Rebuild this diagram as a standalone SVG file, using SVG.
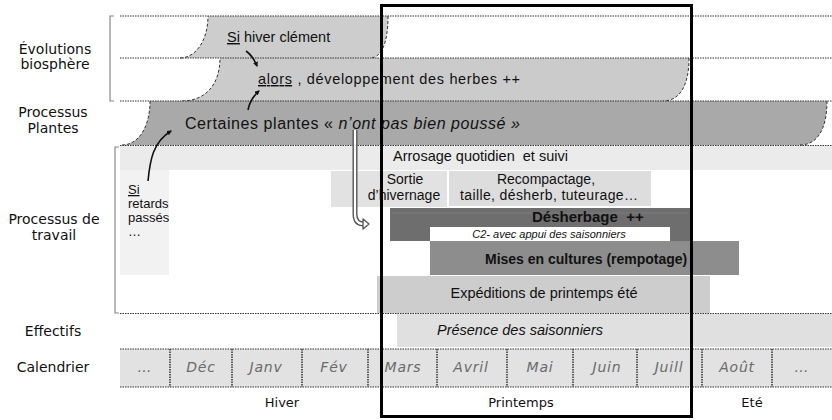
<svg xmlns="http://www.w3.org/2000/svg" width="832" height="420" viewBox="0 0 832 420">
<style>
.lbl{font-family:"DejaVu Sans",sans-serif;font-size:14px;fill:#111;text-anchor:middle}
.t{font-family:"Liberation Sans",Arial,sans-serif;fill:#111}
.dot{stroke:#333;stroke-width:1.2;stroke-dasharray:1.5 1;fill:none}
.vdot{stroke:#333;stroke-width:1.5;stroke-dasharray:1.5 1;fill:none}
.edge{stroke:#333;stroke-width:1;stroke-dasharray:3 2;fill:none}
.mon{font-family:"DejaVu Sans",sans-serif;font-style:italic;font-size:14px;fill:#6a6a6a;text-anchor:middle;letter-spacing:0.8px}
.ssn{font-family:"DejaVu Sans",sans-serif;font-size:13px;fill:#111;text-anchor:middle}
.br{stroke:#888;stroke-width:1.2;fill:none}
.arr{stroke:#111;stroke-width:1.6;fill:none;marker-end:url(#ah)}
</style>
<defs>
<marker id="ah" viewBox="0 0 10 10" refX="8" refY="5" markerWidth="5" markerHeight="5" orient="auto" markerUnits="userSpaceOnUse">
<path d="M0,0 L10,5 L0,10 Z" fill="#111"/>
</marker>
</defs>
<rect width="832" height="420" fill="#fff"/>

<g id="labels">
<text class="lbl" x="55" y="54">Évolutions</text>
<text class="lbl" x="55" y="69">biosphère</text>
<text class="lbl" x="53" y="117">Processus</text>
<text class="lbl" x="53" y="133">Plantes</text>
<text class="lbl" x="54" y="224">Processus de</text>
<text class="lbl" x="54" y="240">travail</text>
<text class="lbl" x="53" y="336">Effectifs</text>
<text class="lbl" x="53" y="372">Calendrier</text>
<path class="br" d="M114,16 L110,16 L110,101 L114,101"/>
<path class="br" d="M119,147 L115,147 L115,313 L119,313"/>
</g>

<g id="si-hiver">
<path d="M208,16 L388,16 C388,42 382,58 370,58 L180,58 C196,58 208,40 208,16 Z" fill="#cdcdcd"/>
<path class="edge" d="M180,58 C196,58 208,40 208,16"/>
<path class="edge" d="M388,16 C388,42 382,58 370,58"/>
<text class="t" x="227" y="42" font-size="14.5"><tspan text-decoration="underline">Si</tspan> hiver clément</text>
</g>

<g id="alors">
<path d="M220,58 L689,58 C689,85 680,101 663,101 L182,101 C205,101 220,85 220,58 Z" fill="#cbcbcb"/>
<path class="edge" d="M182,101 C205,101 220,85 220,58"/>
<path class="edge" d="M689,58 C689,85 680,101 663,101"/>
<text class="t" x="258" y="84" font-size="14.5" textLength="262" lengthAdjust="spacing"><tspan text-decoration="underline">alors</tspan> , développement des herbes ++</text>
</g>

<g id="certaines">
<path d="M150,101 L827,101 C827,128 818,145 800,145 L122,145 C138,145 150,128 150,101 Z" fill="#a9a9a9"/>
<path class="edge" d="M122,145 C138,145 150,128 150,101"/>
<path class="edge" d="M827,101 C827,128 818,145 800,145"/>
<text class="t" x="185" y="129" font-size="16" textLength="335" lengthAdjust="spacing">Certaines plantes « <tspan font-style="italic">n’ont pas bien poussé »</tspan></text>
</g>

<g id="arrosage">
<rect x="120" y="146" width="712" height="24" fill="#ebebeb"/>
<text class="t" x="393" y="161" font-size="14.5" xml:space="preserve">Arrosage quotidien  et suivi</text>
</g>

<g id="si-retards">
<rect x="120" y="170" width="49" height="105" fill="#f2f2f2"/>
<text class="t" x="128" y="194" font-size="13" text-decoration="underline">Si</text>
<text class="t" x="128" y="208" font-size="13">retards</text>
<text class="t" x="128" y="222" font-size="13">passés</text>
<text class="t" x="128" y="236" font-size="13" fill="#555">…</text>
</g>

<g id="sortie">
<rect x="331" y="171" width="116" height="36" fill="#e2e2e2"/>
<text class="t" x="405" y="184" font-size="14" text-anchor="middle">Sortie</text>
<text class="t" x="404" y="200" font-size="14" text-anchor="middle">d’hivernage</text>
</g>

<g id="recompactage">
<rect x="449" y="171" width="202" height="35" fill="#dddddd"/>
<text class="t" x="546" y="184" font-size="14" text-anchor="middle">Recompactage,</text>
<text class="t" x="549" y="200" font-size="14" text-anchor="middle" textLength="178" lengthAdjust="spacing">taille, désherb, tuteurage…</text>
</g>

<g id="desherbage">
<rect x="390" y="208" width="300" height="33" fill="#6e6e6e"/>
<line x1="392" y1="213" x2="688" y2="213" stroke="#7c7c7c" stroke-width="1"/>
<text class="t" x="532" y="222" font-size="15" font-weight="bold" xml:space="preserve">Désherbage  ++</text>
</g>

<g id="c2">
<rect x="430" y="227" width="240" height="14" fill="#ffffff"/>
<text class="t" x="549" y="238" font-size="11" font-style="italic" text-anchor="middle">C2- avec appui des saisonniers</text>
</g>

<g id="mises">
<rect x="430" y="241" width="309" height="34" fill="#8d8d8d"/>
<text class="t" x="485" y="264" font-size="14" font-weight="bold">Mises en cultures (rempotage)</text>
</g>

<g id="expeditions">
<rect x="377" y="276" width="333" height="37" fill="#cdcdcd"/>
<text class="t" x="544" y="298" font-size="14.5" text-anchor="middle">Expéditions de printemps été</text>
</g>

<g id="presence">
<rect x="397" y="314" width="435" height="33" fill="#e0e0e0"/>
<text class="t" x="520" y="335" font-size="14.5" font-style="italic" text-anchor="middle">Présence des saisonniers</text>
</g>

<g id="calendrier">
<rect x="120" y="349" width="712" height="38" fill="#e2e2e2"/>
<g class="vdot">
<line x1="170" y1="349" x2="170" y2="387"/>
<line x1="232" y1="349" x2="232" y2="387"/>
<line x1="302" y1="349" x2="302" y2="387"/>
<line x1="368" y1="349" x2="368" y2="387"/>
<line x1="437" y1="349" x2="437" y2="387"/>
<line x1="507" y1="349" x2="507" y2="387"/>
<line x1="573" y1="349" x2="573" y2="387"/>
<line x1="637" y1="349" x2="637" y2="387"/>
<line x1="702" y1="349" x2="702" y2="387"/>
<line x1="772" y1="349" x2="772" y2="387"/>
</g>
<text class="mon" x="145" y="372" font-size="10" fill="#aaa">…</text>
<text class="mon" x="201" y="372">Déc</text>
<text class="mon" x="266" y="372">Janv</text>
<text class="mon" x="334" y="372">Fév</text>
<text class="mon" x="403" y="372">Mars</text>
<text class="mon" x="471" y="372">Avril</text>
<text class="mon" x="540" y="372">Mai</text>
<text class="mon" x="607" y="372">Juin</text>
<text class="mon" x="669" y="372">Juill</text>
<text class="mon" x="737" y="372">Août</text>
<text class="mon" x="802" y="372" font-size="10" fill="#aaa">…</text>
<text class="ssn" x="282" y="407">Hiver</text>
<text class="ssn" x="521" y="407">Printemps</text>
<text class="ssn" x="752" y="407">Eté</text>
</g>

<g id="gridlines" class="dot">
<line x1="120" y1="16" x2="832" y2="16"/>
<line x1="120" y1="58" x2="832" y2="58"/>
<line x1="120" y1="101" x2="832" y2="101"/>
<line x1="120" y1="145.5" x2="832" y2="145.5"/>
<line x1="120" y1="313.5" x2="832" y2="313.5"/>
<line x1="120" y1="349" x2="832" y2="349"/>
<line x1="120" y1="387" x2="832" y2="387"/>
</g>

<g id="connectors">
<path class="arr" d="M246,51 Q253,56 257,66"/>
<path class="arr" d="M248,110 Q250,99 259,91"/>
<path class="arr" d="M148,181 C150,160 153,142 171,131"/>
<path d="M355,130 L355,214 Q355,224 364,224" stroke="#555" stroke-width="5" fill="none"/>
<path d="M355,130 L355,214 Q355,224 364,224" stroke="#fff" stroke-width="2.2" fill="none"/>
<path d="M363,219 L369,224 L363,229 Z" fill="#fff" stroke="#555" stroke-width="1.3" stroke-linejoin="round"/>
</g>

<rect id="frame" x="381.5" y="5.5" width="310" height="411" fill="none" stroke="#000" stroke-width="3"/>
</svg>
